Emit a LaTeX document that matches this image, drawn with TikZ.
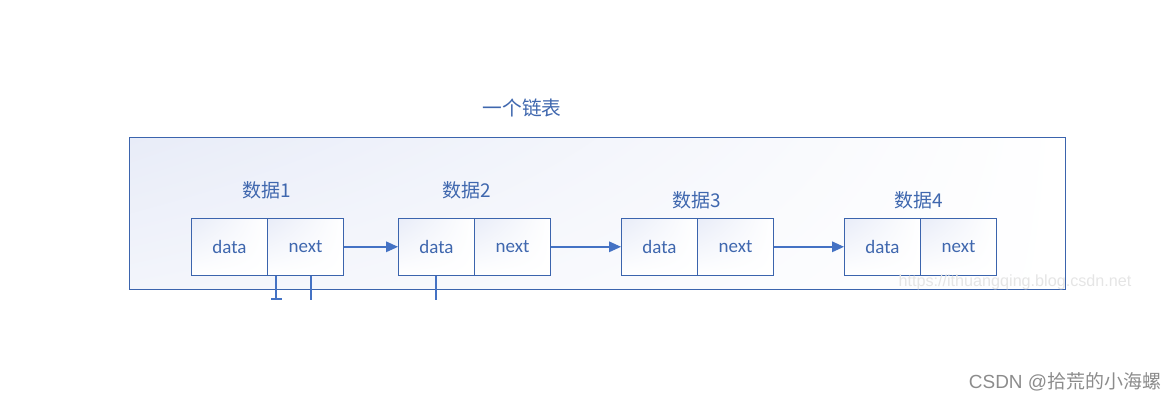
\documentclass[tikz,border=0pt]{standalone}
\usepackage{fontspec}
\usepackage{xcolor}
\setmainfont{Carlito}
\newfontfamily\cjk{Noto Sans CJK SC}
\newfontfamily\wmfont{Liberation Sans}
\definecolor{linkblue}{HTML}{3B64AD}
\definecolor{arrowblue}{HTML}{4472C4}
\definecolor{textblue}{HTML}{3F67AE}
\definecolor{paleblue}{HTML}{E8ECF8}
\definecolor{paleblueb}{HTML}{F3F5FB}
\usetikzlibrary{arrows.meta,shadings}
\tikzset{
  cell/.style={draw=linkblue,line width=0.7pt,minimum width=54.04pt,minimum height=40.5pt,inner sep=0pt,
    upper left=paleblue,lower left=white,upper right=white,lower right=white,text=textblue,font=\fontsize{13.5}{16}\selectfont},
  title/.style={text=textblue,inner sep=0pt,font=\cjk\fontsize{13.5}{16}\selectfont},
  link/.style={draw=arrowblue,line width=1pt,-{Triangle[length=8.5pt,width=7.5pt]}},
  stub/.style={draw=arrowblue,line width=1pt}
}
\begin{document}
\begin{tikzpicture}[x=0.025cm,y=-0.025cm]
    \useasboundingbox (0,0) rectangle (1176,401);
    \node[draw=linkblue,line width=0.7pt,minimum width=665.6pt,minimum height=108.1pt,inner sep=0pt,
      upper left=paleblue,lower left=paleblueb,upper right=white,lower right=white] (outer) at (597.3,213.3) {};
    \node[title,font=\cjk\fontsize{14}{16}\selectfont] (tt) at (522,108) {一个链表};
    \node[title] (ta) at (267,190) {数据1};
    \node[title] (tb) at (467,190) {数据2};
    \node[title] (tc) at (697,200) {数据3};
    \node[title] (td) at (919,200) {数据4};
    \node[cell] (aa) at (229.5,246.8) {data};
    \node[cell] (ab) at (305.5,246.8) {next};
    \node[cell] (ba) at (436.5,246.8) {data};
    \node[cell] (bb) at (512.5,246.8) {next};
    \node[cell] (ca) at (659.5,246.8) {data};
    \node[cell] (cb) at (735.5,246.8) {next};
    \node[cell] (da) at (882.5,246.8) {data};
    \node[cell] (db) at (958.5,246.8) {next};
    \draw[link] (ab)--(ba);
    \draw[link] (bb)--(ca);
    \draw[link] (cb)--(da);
    \coordinate (sa) at (276,299);
    \coordinate (sb) at (311,300);
    \coordinate (sc) at (436,300);
    \coordinate (sl) at (271,299);
    \coordinate (sr) at (282,299);
    \draw[stub] (ab.south west-|sa)--(sa);
    \draw[stub] (sl)--(sr);
    \draw[stub] (ab.south-|sb)--(sb);
    \draw[stub] (ba.south-|sc)--(sc);
    \node[text=black!10,inner sep=0pt,font=\wmfont\fontsize{11.5}{14}\selectfont] (wa) at (1015,282) {https://ithuangqing.blog.csdn.net};
    \node[text=black!45,inner sep=0pt,font=\wmfont\fontsize{13.5}{16}\selectfont] (wb) at (1065,382) {CSDN @{\cjk 拾荒的小海螺}};
\end{tikzpicture}
\end{document}
